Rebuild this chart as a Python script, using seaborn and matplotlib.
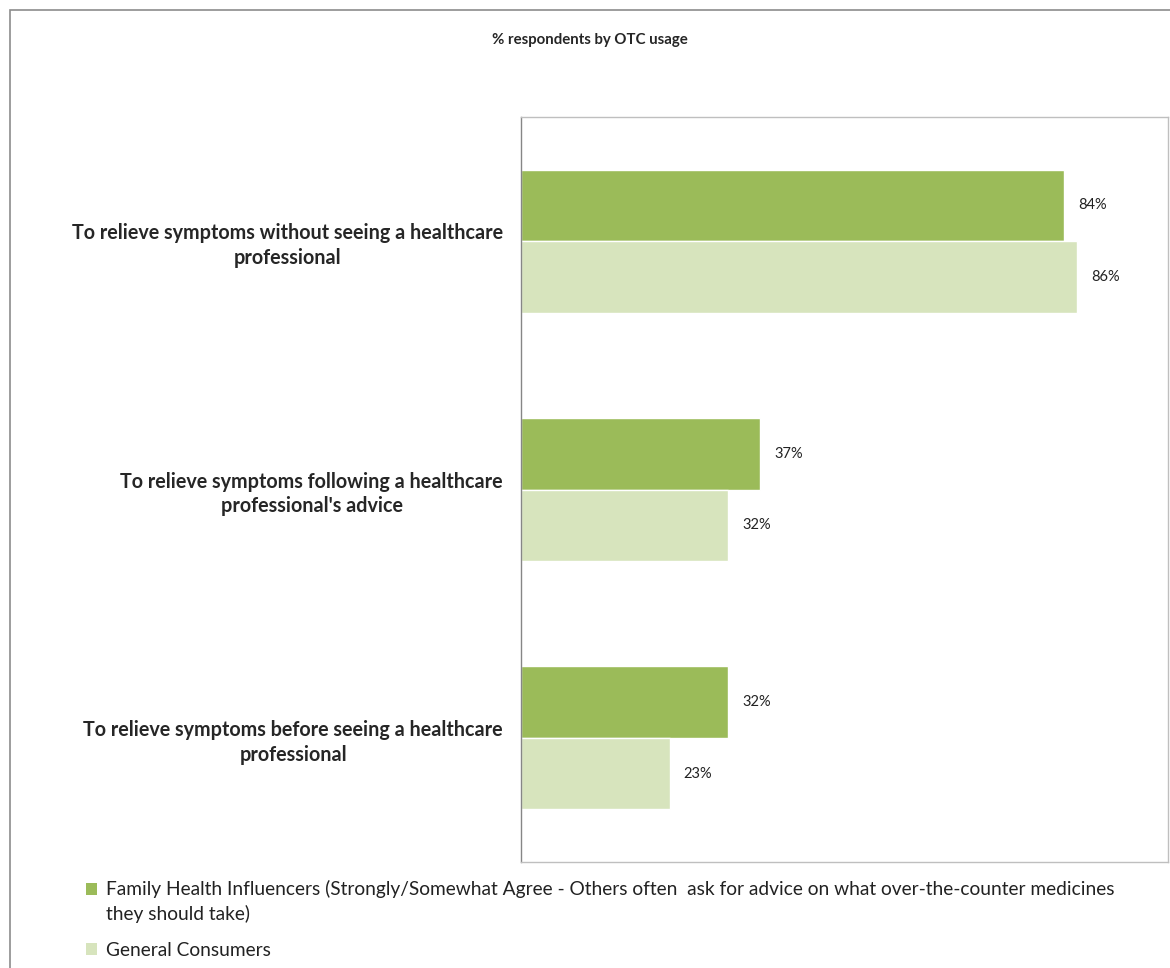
import matplotlib
matplotlib.use("Agg")
import matplotlib.pyplot as plt
import seaborn as sns
import pandas as pd
from matplotlib.patches import Rectangle, Patch
from matplotlib.legend_handler import HandlerPatch

categories = [
    "To relieve symptoms without seeing a healthcare\nprofessional",
    "To relieve symptoms following a healthcare\nprofessional's advice",
    "To relieve symptoms before seeing a healthcare\nprofessional",
]
series_names = [
    "Family Health Influencers (Strongly/Somewhat Agree - Others often  ask for advice on what over-the-counter medicines\nthey should take)",
    "General Consumers",
]
influencers = [84, 37, 32]
consumers = [86, 32, 23]
colors = ["#9BBB59", "#D7E4BD"]
title = "% respondents by OTC usage"

rows = []
for c, a, b in zip(categories, influencers, consumers):
    rows.append({"cat": c, "series": series_names[0], "val": a})
    rows.append({"cat": c, "series": series_names[1], "val": b})
df = pd.DataFrame(rows)

sns.set_style("white")
plt.rcParams["font.family"] = ["Lato", "DejaVu Sans"]

fig = plt.figure(figsize=(11.7, 9.68), dpi=100)
ax = fig.add_axes([521/1170, 1 - 862/968, 647/1170, 745/968])

sns.barplot(data=df, y="cat", x="val", hue="series", orient="h",
            palette=colors, width=0.577, ax=ax, saturation=1,
            order=categories, hue_order=series_names, legend=False)

ax.set_xlim(0, 100)
ax.set_xlabel("")
ax.set_ylabel("")
ax.set_xticks([])
ax.tick_params(axis="y", length=0, pad=13)
for lab in ax.get_yticklabels():
    lab.set_fontweight("bold")
    lab.set_fontsize(14.2)
    lab.set_multialignment("center")
    lab.set_linespacing(1.3)

for sp in ax.spines.values():
    sp.set_visible(True)
    sp.set_color("#BFBFBF")
    sp.set_linewidth(1)
ax.spines["left"].set_color("#868686")

for cont in ax.containers:
    ax.bar_label(cont, labels=[f"{int(v)}%" for v in cont.datavalues],
                 padding=10, fontsize=10.5, color="#222222")


def make_patch(shift):
    def f(legend, orig_handle, xdescent, ydescent, width, height, fontsize):
        return Rectangle((-xdescent, -ydescent + shift), width, height)
    return f


handles = [Patch(facecolor=c, edgecolor="none") for c in colors]
hmap = {handles[0]: HandlerPatch(patch_func=make_patch(9.0)),
        handles[1]: HandlerPatch(patch_func=make_patch(0.0))}
leg = fig.legend(handles, series_names, loc="upper left", handler_map=hmap,
                 bbox_to_anchor=(78/1170, 1 - 872/968), frameon=False,
                 fontsize=13.8, handlelength=0.6, handleheight=0.6,
                 handletextpad=0.45, labelspacing=0.95, borderaxespad=0)
for t in leg.get_texts():
    t.set_linespacing(1.5)
    t.set_color("#222222")

fig.text(590/1170, 1 - 40/968, title, ha="center", va="center",
         fontsize=10.8, fontweight="bold")

fig.add_artist(Rectangle((10/1170, -0.01), 1.1, 1 - 10/968 + 0.01,
                         transform=fig.transFigure, fill=False,
                         edgecolor="#8C8C8C", linewidth=1.2, clip_on=False))

fig.savefig("out.png", dpi=100, facecolor="white")
